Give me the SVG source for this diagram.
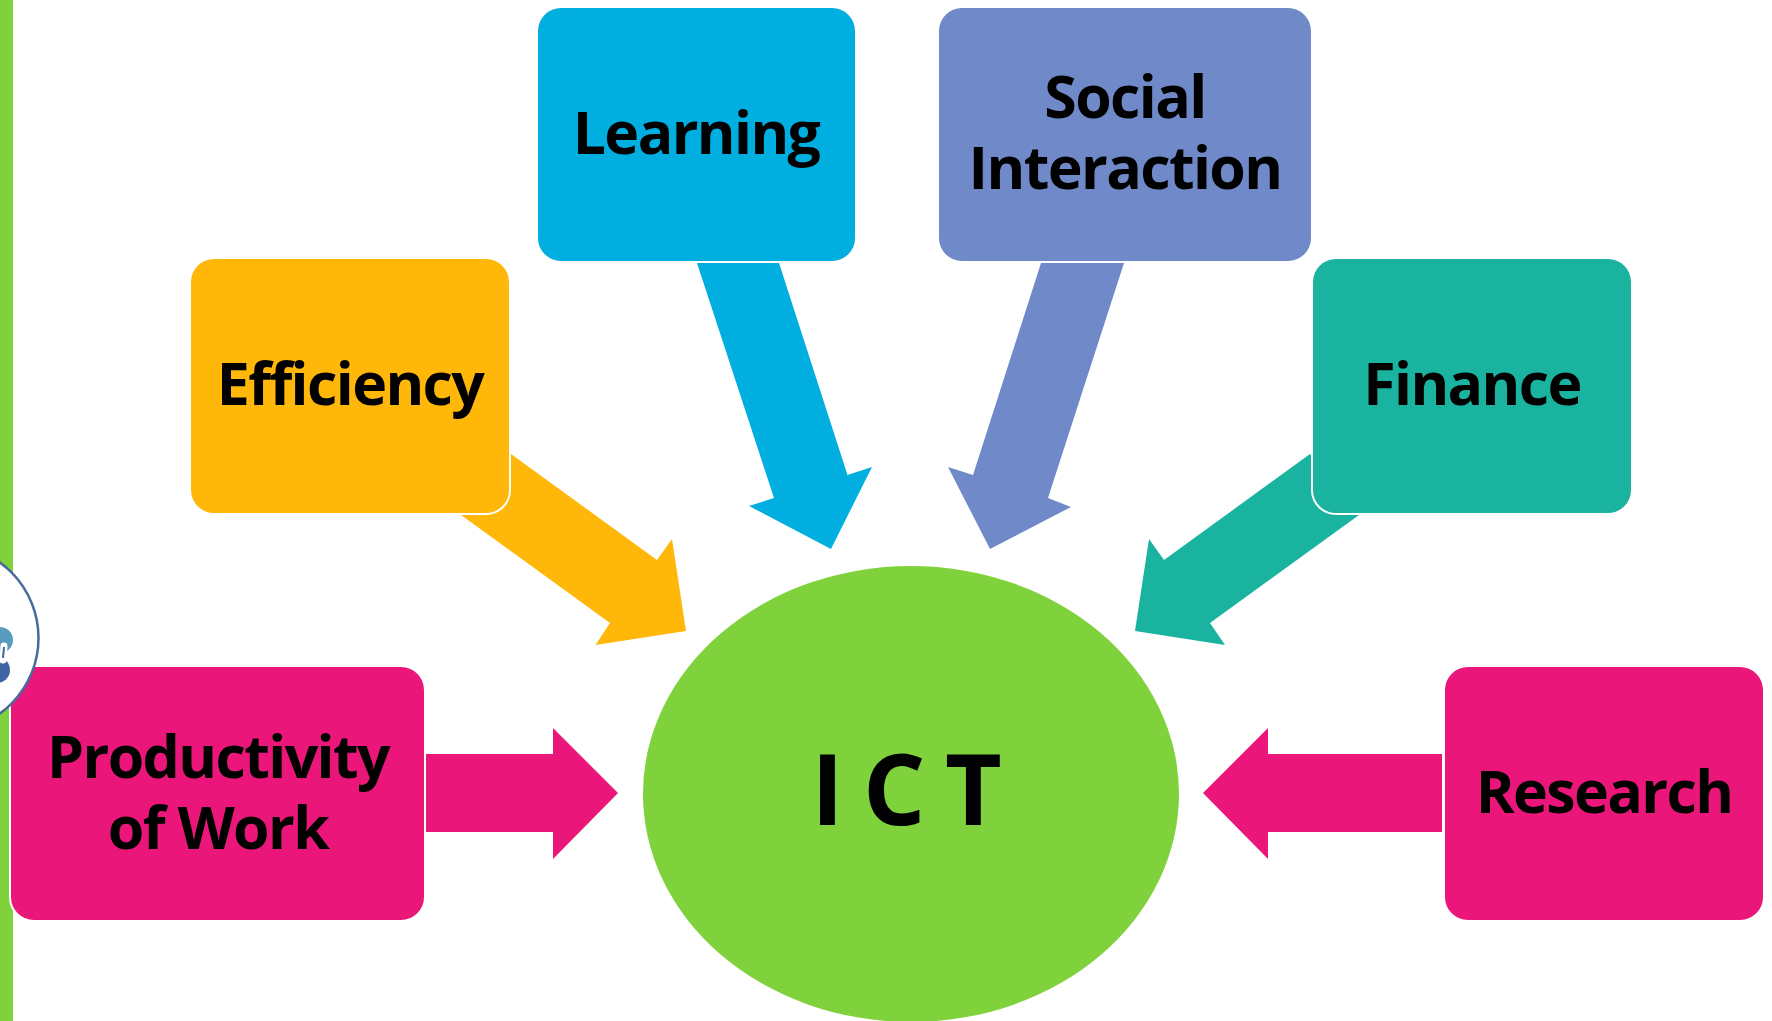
<svg xmlns="http://www.w3.org/2000/svg" width="1772" height="1021" viewBox="0 0 1772 1021">
<style>
.box{stroke:#fff;stroke-width:2}
text{font-family:"Open Sans","Noto Sans","Liberation Sans",sans-serif;font-weight:700;font-size:59px;font-stretch:90%;letter-spacing:-1.6px;fill:#000;text-anchor:middle}
.amber{fill:#ffb70a}.blue{fill:#00aedf}.slate{fill:#7089c8}.teal{fill:#1ab3a0}.pink{fill:#eb1679}
</style>
<rect width="1772" height="1021" fill="#fff"/>
<rect id="side-bar" x="0" y="0" width="13" height="1021" fill="#7fd23b"/>
<g id="connectors">
<polygon class="amber" points="511,454 657,560 672,539 686,631 595.5,645 610,623 461,515"/>
<polygon class="blue" points="697,263 779,263 847.5,475 872,467 831,549 749,506 774,498"/>
<polygon class="slate" points="1041,263 1124,263 1048,498 1071,507 990,549 948,467 973,475"/>
<polygon class="teal" points="1310,454 1164,560 1149,539 1135,631 1225,645 1210,623 1359,515"/>
<polygon class="pink" points="426,754 553,754 553,728 618,793 553,859 553,832 426,832"/>
<polygon class="pink" points="1442,754 1268,754 1268,728 1203,793 1268,859 1268,832 1442,832"/>
</g>
<g id="node-ict"><ellipse cx="911" cy="794" rx="268" ry="228" fill="#7fd23b"/><text x="905" y="825" style="font-size:98px;letter-spacing:-3px">I C T</text></g>
<g id="node-learning"><rect class="box blue" x="537" y="7" width="319" height="255" rx="24"/><text x="696" y="154">Learning</text></g>
<g id="node-social"><rect class="box slate" x="938" y="7" width="374" height="255" rx="24"/><text x="1125" y="118">Social</text><text x="1125" y="189">Interaction</text></g>
<g id="node-efficiency"><rect class="box amber" x="190" y="258" width="320" height="256" rx="24"/><text x="350" y="405">Efficiency</text></g>
<g id="node-finance"><rect class="box teal" x="1312" y="258" width="320" height="256" rx="24"/><text x="1472" y="405">Finance</text></g>
<g id="node-productivity"><rect class="box pink" x="10" y="666" width="415" height="255" rx="24"/><text x="218" y="778">Productivity</text><text x="218" y="849">of Work</text></g>
<g id="node-research"><rect class="box pink" x="1444" y="666" width="320" height="255" rx="24"/><text x="1604" y="813">Research</text></g>
<g id="logo">
<circle cx="-54.5" cy="638" r="93" fill="#fff" stroke="#4a6a9c" stroke-width="2.5"/>
<circle cx="0" cy="640" r="13" fill="#5a9cc0"/>
<circle cx="-3" cy="670" r="13" fill="#3f64a4"/>
<path d="M4 646 L3 660" stroke="#fff" stroke-width="7" stroke-linecap="round" fill="none"/>
<path d="M4 647 L3 658" stroke="#3f64a4" stroke-width="2" fill="none"/>
</g>
</svg>
